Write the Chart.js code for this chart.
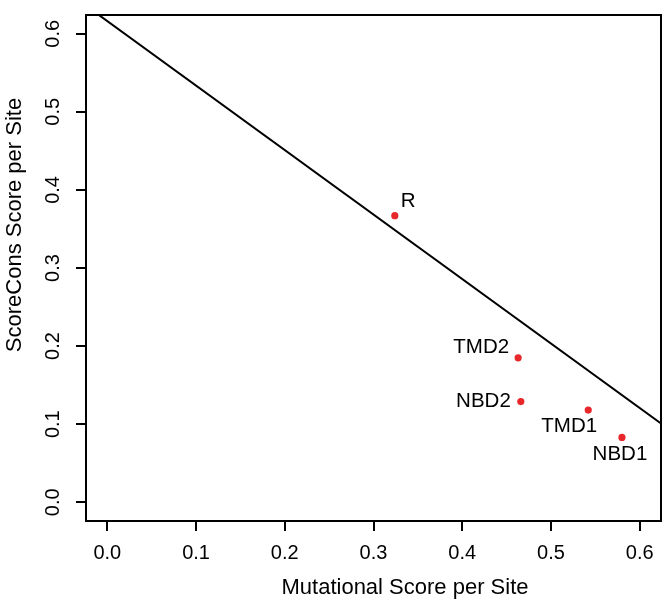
<!DOCTYPE html>
<html lang="en">
  <head>
    <meta charset="UTF-8" />
    <title>ScoreCons vs Mutational Score</title>
    <script src="https://cdn.jsdelivr.net/npm/chart.js"></script>
    <style>
      html, body { margin: 0; padding: 0; background: #fff; }
      #wrap { width: 668px; height: 608px; }
    </style>
  </head>
  <body>
    <div id="wrap"><canvas id="chart" width="668" height="608"></canvas></div>

    <script>
      // Data
      const domains = ["R", "TMD2", "NBD2", "TMD1", "NBD1"];
      const mutationalScore = [0.324, 0.463, 0.466, 0.542, 0.580];
      const scoreConsScore = [0.367, 0.185, 0.129, 0.118, 0.083];

      // fitted line, read at the two edges of the plot
      const lineX = [-0.024, 0.624];
      const lineY = [0.636, 0.101];

      const xTicks = [0.0, 0.1, 0.2, 0.3, 0.4, 0.5, 0.6];
      const yTicks = [0.0, 0.1, 0.2, 0.3, 0.4, 0.5, 0.6];
      const xRange = [-0.024, 0.624];
      const yRange = [-0.024, 0.624];

      const xTitle = "Mutational Score per Site";
      const yTitle = "ScoreCons Score per Site";

      // where each label sits next to its point (R-style text placement)
      const labelPlacement = {
        R: { dx: 6, dy: -14, align: "left" },
        TMD2: { dx: -9, dy: -10, align: "right" },
        NBD2: { dx: -10, dy: 0, align: "right" },
        TMD1: { dx: -19, dy: 16, align: "center" },
        NBD1: { dx: -2, dy: 17, align: "center" },
      };

      const axisFont = "'Liberation Sans', Arial, Helvetica, sans-serif";

      const extras = {
        id: "extras",
        afterDraw(chart) {
          const ctx = chart.ctx;
          const a = chart.chartArea;
          const xs = chart.scales.x;
          const ys = chart.scales.y;
          ctx.save();

          // full box round the plot
          ctx.strokeStyle = "#000";
          ctx.lineWidth = 2;
          ctx.strokeRect(a.left, a.top, a.right - a.left, a.bottom - a.top);

          // y tick labels, rotated like base R
          ctx.fillStyle = "#000";
          ctx.font = "20px " + axisFont;
          ctx.textAlign = "center";
          ctx.textBaseline = "middle";
          yTicks.forEach((v) => {
            const py = ys.getPixelForValue(v);
            ctx.save();
            ctx.translate(53, py);
            ctx.rotate(-Math.PI / 2);
            ctx.fillText(v.toFixed(1), 0, 0);
            ctx.restore();
          });

          // axis titles
          ctx.font = "22px " + axisFont;
          ctx.fillText(xTitle, 405, 588);
          ctx.save();
          ctx.translate(15, 225);
          ctx.rotate(-Math.PI / 2);
          ctx.fillText(yTitle, 0, 0);
          ctx.restore();

          // point labels
          ctx.font = "20.5px " + axisFont;
          domains.forEach((name, i) => {
            const p = labelPlacement[name];
            const px = xs.getPixelForValue(mutationalScore[i]);
            const py = ys.getPixelForValue(scoreConsScore[i]);
            ctx.textAlign = p.align;
            ctx.fillText(name, px + p.dx, py + p.dy);
          });
          ctx.restore();
        },
      };

      const axisCommon = {
        type: "linear",
        grid: {
          drawOnChartArea: false,
          drawTicks: true,
          tickLength: 10,
          color: "#000",
          lineWidth: 2,
        },
        border: { display: true, color: "#000", width: 2 },
      };

      new Chart(document.getElementById("chart"), {
        type: "scatter",
        data: {
          datasets: [
            {
              label: "domains",
              data: domains.map((d, i) => ({
                x: mutationalScore[i],
                y: scoreConsScore[i],
              })),
              backgroundColor: "#e8272b",
              borderColor: "#e8272b",
              pointRadius: 3.6,
              borderWidth: 0,
            },
            {
              label: "fit",
              data: lineX.map((x, i) => ({ x: x, y: lineY[i] })),
              showLine: true,
              borderColor: "#000",
              borderWidth: 2,
              pointRadius: 0,
            },
          ],
        },
        options: {
          responsive: false,
          animation: false,
          layout: { padding: { top: 7, right: 7, left: 0, bottom: 0 } },
          plugins: {
            legend: { display: false },
            tooltip: { enabled: false },
          },
          scales: {
            x: {
              ...axisCommon,
              min: xRange[0],
              max: xRange[1],
              afterBuildTicks: (s) => {
                s.ticks = xTicks.map((v) => ({ value: v }));
              },
              afterFit: (s) => {
                s.height = 87;
              },
              ticks: {
                color: "#000",
                padding: 10,
                maxRotation: 0,
                font: { family: axisFont, size: 20 },
                callback: (v) => v.toFixed(1),
              },
            },
            y: {
              ...axisCommon,
              min: yRange[0],
              max: yRange[1],
              afterBuildTicks: (s) => {
                s.ticks = yTicks.map((v) => ({ value: v }));
              },
              afterFit: (s) => {
                s.width = 86;
              },
              ticks: {
                color: "rgba(0,0,0,0)",
                font: { family: axisFont, size: 20 },
              },
            },
          },
        },
        plugins: [extras],
      });
    </script>
  </body>
</html>
